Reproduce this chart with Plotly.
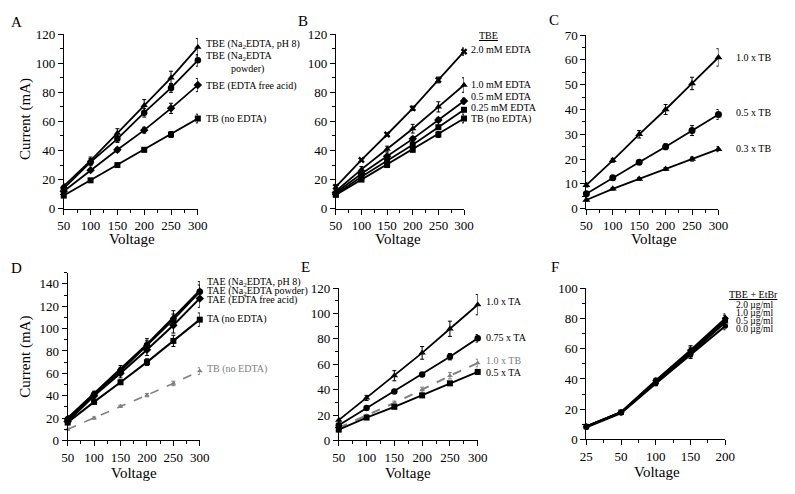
import plotly.graph_objects as go

W, H = 795, 494
FONT = "Liberation Serif"

# ---------------- data ----------------
voltage = [50, 100, 150, 200, 250, 300]

# Panel A
a_ph8 = [15.5, 33, 52, 71, 90, 111]
a_ph8_err = [1.5, 2.5, 3, 4, 4.5, 6]
a_powder = [14, 32, 48, 66, 83, 102]
a_powder_err = [1.5, 2.5, 2.5, 3, 3, 4]
a_free = [12, 26.5, 40.5, 54, 69, 85]
a_free_err = [1, 1, 1.5, 2, 3.5, 4.5]
a_tb = [9, 19.5, 30, 40.5, 51, 62]
a_tb_err = [1, 1, 1, 1.5, 2, 3]

# Panel B
b_20 = [15, 33.5, 51, 69, 88.5, 108]
b_20_err = [1.5, 1, 1, 1.5, 2, 2.5]
b_10 = [12, 27, 41, 55, 70, 85]
b_10_err = [1, 2, 2, 3, 3.5, 5]
b_05 = [11, 24, 36, 48, 61, 74]
b_05_err = [1, 1, 1, 1.5, 1.5, 2]
b_025 = [10, 22, 33, 44, 56, 68]
b_025_err = [1, 1, 1, 1, 1.5, 1.5]
b_tb = [9.5, 20, 30, 40.5, 51, 62]
b_tb_err = [1, 1, 1, 1.5, 2, 3]

# Panel C
c_10 = [9.5, 19.5, 30, 40, 50.5, 61]
c_10_err = [0.8, 0.8, 1.5, 2, 2.5, 3.5]
c_05 = [6, 12.5, 18.7, 25, 31.5, 38]
c_05_err = [0.5, 0.7, 0.8, 1.2, 2, 2]
c_03 = [3.5, 8, 12, 16, 20, 24]
c_03_err = [0.5, 0.5, 0.5, 0.6, 0.8, 1]

# Panel D
d_ph8 = [20, 42, 64, 86, 110, 134]
d_ph8_err = [2, 2, 3, 5, 6, 8]
d_powder = [19, 41, 62, 85, 108, 133]
d_powder_err = [2, 2, 3, 4, 5, 6]
d_free = [17, 40, 60, 81, 103, 127]
d_free_err = [2, 2, 4, 5, 7, 8]
d_ta = [16, 34.5, 52, 70, 89, 108]
d_ta_err = [2, 2, 2, 3, 5, 6]
d_tb = [10, 20, 30.5, 40.5, 51, 62]
d_tb_err = [1, 1, 1, 1.5, 2, 3]

# Panel E
e_ta10 = [16, 33.5, 51, 69, 88, 107]
e_ta10_err = [1.5, 2, 4, 5, 6, 8]
e_ta075 = [12, 25.5, 38.5, 52, 66, 80.5]
e_ta075_err = [1, 1, 1, 1.5, 2.5, 3]
e_tb10 = [10, 19.5, 29.5, 40, 51, 61]
e_tb10_err = [1, 1, 1.5, 2, 2.5, 3]
e_ta05 = [8.5, 18, 26.5, 35.5, 45, 54]
e_ta05_err = [1, 1, 1, 1.5, 1.5, 2]

# Panel F (category axis)
f_voltage = ["25", "50", "100", "150", "200"]
f_20 = [8.5, 18, 39, 59, 80]
f_20_err = [1, 1, 1.5, 3, 3]
f_10 = [8.5, 18, 38.5, 58, 79]
f_10_err = [1, 1, 1.5, 3, 3]
f_05 = [8.5, 18, 37.5, 57, 77.5]
f_05_err = [1, 1, 1.5, 2.5, 3]
f_00 = [8, 17.5, 37, 56, 75]
f_00_err = [1, 1, 1.5, 2.5, 2.5]

# ---------------- helpers ----------------
def px(x):
    return x / W

def py(y):
    return 1 - y / H

BLACK = "black"
GREY = "#808080"

fig = go.Figure()

def add(xs, ys, errs, ax, symbol, color=BLACK, dash="solid", lw=1.8, size=6.5):
    fig.add_trace(go.Scatter(
        x=xs, y=ys, mode="lines+markers",
        xaxis="x" + ax, yaxis="y" + ax,
        line=dict(color=color, width=lw, dash=dash),
        marker=dict(symbol=symbol, size=size, color=color),
        error_y=dict(type="data", array=errs, visible=True, color=color, thickness=1, width=2),
        cliponaxis=False, showlegend=False,
    ))

# A
add(voltage, a_ph8, a_ph8_err, "", "triangle-up")
add(voltage, a_powder, a_powder_err, "", "circle")
add(voltage, a_free, a_free_err, "", "diamond")
add(voltage, a_tb, a_tb_err, "", "square", size=6)
# B
add(voltage, b_20, b_20_err, "2", "x", size=6)
add(voltage, b_10, b_10_err, "2", "triangle-up")
add(voltage, b_05, b_05_err, "2", "diamond")
add(voltage, b_025, b_025_err, "2", "square", size=6)
add(voltage, b_tb, b_tb_err, "2", "square", size=6)
# C
add(voltage, c_10, c_10_err, "3", "triangle-up", size=7)
add(voltage, c_05, c_05_err, "3", "circle", size=7)
add(voltage, c_03, c_03_err, "3", "triangle-up", size=7)
# D
add(voltage, d_tb, d_tb_err, "4", "triangle-up", color=GREY, dash="dash", lw=1.6, size=5)
add(voltage, d_ta, d_ta_err, "4", "square", lw=2, size=6)
add(voltage, d_free, d_free_err, "4", "diamond", lw=2)
add(voltage, d_powder, d_powder_err, "4", "circle", lw=2)
add(voltage, d_ph8, d_ph8_err, "4", "triangle-up", lw=2)
# E
add(voltage, e_tb10, e_tb10_err, "5", "triangle-up", color=GREY, dash="dash", lw=2, size=5)
add(voltage, e_ta10, e_ta10_err, "5", "triangle-up")
add(voltage, e_ta075, e_ta075_err, "5", "circle")
add(voltage, e_ta05, e_ta05_err, "5", "square", size=6)
# F
fx = list(range(len(f_voltage)))
add(fx, f_00, f_00_err, "6", "circle", lw=2.2, size=5.5)
add(fx, f_05, f_05_err, "6", "triangle-up", lw=2.2, size=5.5)
add(fx, f_10, f_10_err, "6", "square", lw=2.2, size=5.5)
add(fx, f_20, f_20_err, "6", "diamond", lw=2.2, size=5.5)

# ---------------- axes ----------------
tickfont = dict(family=FONT, size=13, color="black")

def xaxis(x0, x1, anchor, rng, tickvals, minor_dtick, ticktext=None, minor_tick0=None):
    d = dict(domain=[px(x0), px(x1)], anchor=anchor, range=rng,
             tickmode="array", tickvals=tickvals,
             ticks="outside", ticklen=5, tickwidth=1, tickcolor="black",
             showline=True, linecolor="black", linewidth=1,
             showgrid=False, zeroline=False, tickfont=tickfont,
             minor=dict(dtick=minor_dtick, tick0=minor_tick0 if minor_tick0 is not None else rng[0],
                        ticks="outside", ticklen=3, tickcolor="black", showgrid=False))
    if ticktext is not None:
        d["ticktext"] = ticktext
    return d

def yaxis(y0, y1, anchor, rng, dtick, minor_dtick):
    return dict(domain=[py(y1), py(y0)], anchor=anchor, range=rng,
                tickmode="linear", tick0=0, dtick=dtick,
                ticks="outside", ticklen=5, tickwidth=1, tickcolor="black",
                showline=True, linecolor="black", linewidth=1,
                showgrid=False, zeroline=False, tickfont=tickfont,
                minor=dict(dtick=minor_dtick, tick0=0, ticks="outside", ticklen=3,
                           tickcolor="black", showgrid=False))

panels = {
    "": (58, 195, 28, 208, [0, 120], 20, 10),
    "2": (336, 467, 28, 208, [0, 120], 20, 10),
    "3": (592, 727, 29, 208, [0, 70], 10, 5),
    "4": (62, 197, 274, 447, [0, 150], 20, 10),
    "5": (339, 481, 290, 447, [0, 120], 20, 10),
}
layout = dict(width=W, height=H, margin=dict(l=0, r=0, t=0, b=0),
              paper_bgcolor="white", plot_bgcolor="white",
              font=dict(family=FONT, color="black"))
for ax, (x0, x1, y0, y1, yr, dt, mdt) in panels.items():
    layout["xaxis" + ax] = xaxis(x0, x1, "y" + ax, [50, 300], voltage, 25)
    layout["yaxis" + ax] = yaxis(y0, y1, "x" + ax, yr, dt, mdt)
layout["xaxis6"] = xaxis(592, 734, "y6", [0, 4], fx, 0.5, ticktext=f_voltage, minor_tick0=0)
layout["yaxis6"] = yaxis(290, 446, "x6", [0, 100], 20, 10)
fig.update_layout(**layout)

# ---------------- annotations ----------------
def text(x, y, s, size=10, xanchor="left", color="black", angle=0):
    fig.add_annotation(x=px(x), y=py(y), xref="paper", yref="paper", text=s,
                       showarrow=False, xanchor=xanchor, yanchor="middle",
                       textangle=angle,
                       font=dict(family=FONT, size=size, color=color))

# panel letters
for s, x, y in [("A", 10, 15), ("B", 302.5, 14), ("C", 558.5, 13),
                ("D", 10, 269), ("E", 305, 268), ("F", 559.5, 268)]:
    text(x, y, s, size=15, xanchor="center")

# axis titles
for x, y in [(128, 239), (400, 239), (661, 239), (130, 481), (410, 481), (664, 480)]:
    text(x, y, "Voltage", size=15, xanchor="center")
text(19, 116, "Current (mA)", size=15, xanchor="center", angle=-90)
text(18, 361, "Current (mA)", size=15, xanchor="center", angle=-90)

# A labels
text(201, 38.5, "TBE (Na<sub>2</sub>EDTA, pH 8)")
text(201, 51.5, "TBE (Na<sub>2</sub>EDTA")
text(227, 63.5, "powder)")
text(201, 81, "TBE (EDTA free acid)")
text(201, 116, "TB (no EDTA)")

# B labels
text(492, 29, "<u>TBE</u>", xanchor="center")
text(472, 44, "2.0 mM EDTA")
text(472, 80, "1.0 mM EDTA")
text(472, 92.5, "0.5 mM EDTA")
text(472, 103.5, "0.25 mM EDTA")
text(472, 116, "TB (no EDTA)")

# C labels
text(743, 52, "1.0 x TB")
text(743, 109, "0.5 x TB")
text(743, 146, "0.3 x TB")

# D labels
text(202, 284, "TAE (Na<sub>2</sub>EDTA, pH 8)")
text(202, 293, "TAE (Na<sub>2</sub>EDTA powder)")
text(202, 302, "TAE (EDTA free acid)")
text(202, 322, "TA (no EDTA)")
text(202, 373, "TB (no EDTA)", color=GREY)

# E labels
text(487, 304, "1.0 x TA")
text(487, 341, "0.75 x TA")
text(487, 364.5, "1.0 x TB", color=GREY)
text(487, 376.5, "0.5 x TA")

# F labels
text(763, 296, "<u>TBE + EtBr</u>", size=10, xanchor="center")
text(743, 307.5, "2.0 µg/ml", size=9.5)
text(743, 316, "1.0 µg/ml", size=9.5)
text(743, 324, "0.5 µg/ml", size=9.5)
text(743, 332, "0.0 µg/ml", size=9.5)

fig.write_html("out.html", config={"displayModeBar": False},
               post_script="document.body.style.margin='0';")
